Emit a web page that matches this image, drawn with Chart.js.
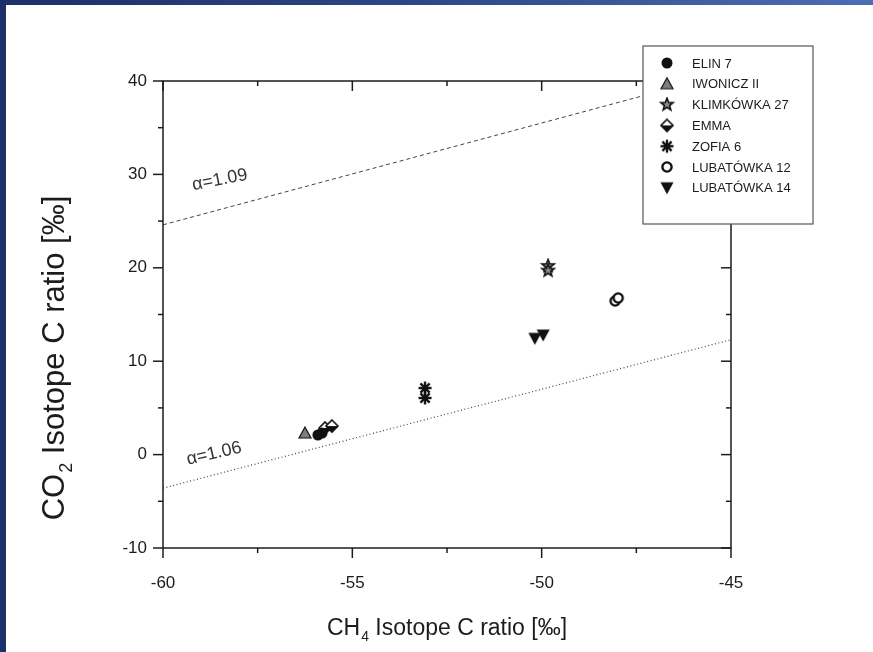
<!DOCTYPE html>
<html>
<head>
<meta charset="utf-8">
<script src="https://cdn.jsdelivr.net/npm/chart.js@4.4.1/dist/chart.umd.min.js"></script>
<style>
  html, body { margin: 0; padding: 0; }
  body { width: 873px; height: 652px; overflow: hidden;
         background: linear-gradient(to right, #1c3069, #2c4584 45%, #4d6db4); position: relative; }
  #frame { position: absolute; left: 6px; top: 5px; width: 867px; height: 647px; background: #fff; }
  #chart { display: block; }
</style>
</head>
<body>
<div id="frame"><canvas id="chart" width="867" height="647"></canvas></div>
<script>
// series names, in legend order
var seriesNames = ['ELIN 7', 'IWONICZ II', 'KLIMKÓWKA 27', 'EMMA', 'ZOFIA 6', 'LUBATÓWKA 12', 'LUBATÓWKA 14'];

// [CH4 ratio, CO2 ratio]
var elin7 = [[-55.91, 2.10], [-55.80, 2.31]];
var iwonicz2 = [[-56.25, 2.31]];
var klimkowka27 = [[-49.83, 20.2], [-49.83, 19.7]];
var emma = [[-55.72, 2.85], [-55.54, 3.06]];
var zofia6 = [[-53.08, 7.13], [-53.08, 6.06]];
var lubatowka12 = [[-48.06, 16.45], [-47.98, 16.77]];
var lubatowka14 = [[-50.18, 12.45], [-49.96, 12.80]];

// fractionation lines, end points
var alpha109 = [[-60, 24.6], [-45, 40.95]];
var alpha106 = [[-60, -3.6], [-45, 12.3]];

// axis ticks
var xMajor = [-60, -55, -50, -45];
var xMinor = [-57.5, -52.5, -47.5];
var yMajor = [-10, 0, 10, 20, 30, 40];
var yMinor = [-5, 5, 15, 25, 35];

var INK = '#1c1c1c';
var FONT = '"Liberation Sans", Arial, sans-serif';

function toPts(arr) {
    return arr.map(function(p) { return { x: p[0], y: p[1] }; });
}

// small canvases used as point styles (and in the legend)
function makeMarker(kind) {
    var c = document.createElement('canvas');
    c.width = 16; c.height = 16;
    var g = c.getContext('2d');
    g.translate(8, 8);
    g.strokeStyle = '#111';
    g.fillStyle = '#111';
    if (kind === 'circle') {
        g.beginPath(); g.arc(0, 0, 5.5, 0, Math.PI * 2); g.fill();
    } else if (kind === 'triangle') {
        g.beginPath(); g.moveTo(0, -6); g.lineTo(6, 5); g.lineTo(-6, 5); g.closePath();
        g.fillStyle = '#7d7d7d'; g.fill(); g.lineWidth = 1.2; g.stroke();
    } else if (kind === 'star') {
        g.beginPath();
        for (var i = 0; i < 10; i++) {
            var r = i % 2 === 0 ? 6.5 : 2.8;
            var a = -Math.PI / 2 + i * Math.PI / 5;
            if (i === 0) g.moveTo(r * Math.cos(a), r * Math.sin(a));
            else g.lineTo(r * Math.cos(a), r * Math.sin(a));
        }
        g.closePath();
        g.fillStyle = '#8a8a8a'; g.fill(); g.lineWidth = 1.6; g.stroke();
    } else if (kind === 'diamond') {
        g.beginPath(); g.moveTo(-6, 0); g.lineTo(0, 6); g.lineTo(6, 0); g.closePath(); g.fill();
        g.beginPath(); g.moveTo(-6, 0); g.lineTo(0, -6); g.lineTo(6, 0); g.closePath();
        g.fillStyle = '#fff'; g.fill();
        g.beginPath(); g.moveTo(0, -6); g.lineTo(6, 0); g.lineTo(0, 6); g.lineTo(-6, 0); g.closePath();
        g.lineWidth = 1.6; g.stroke();
    } else if (kind === 'asterisk') {
        g.lineWidth = 2.4;
        for (var k = 0; k < 4; k++) {
            var b = k * Math.PI / 4;
            g.beginPath();
            g.moveTo(-6.5 * Math.cos(b), -6.5 * Math.sin(b));
            g.lineTo(6.5 * Math.cos(b), 6.5 * Math.sin(b));
            g.stroke();
        }
    } else if (kind === 'ring') {
        g.beginPath(); g.arc(0, 0, 4.6, 0, Math.PI * 2);
        g.fillStyle = '#fff'; g.fill(); g.lineWidth = 2.4; g.stroke();
    } else if (kind === 'down') {
        g.beginPath(); g.moveTo(-6.5, -5.5); g.lineTo(6.5, -5.5); g.lineTo(0, 6.5); g.closePath(); g.fill();
    }
    return c;
}

var markers = [makeMarker('circle'), makeMarker('triangle'), makeMarker('star'), makeMarker('diamond'),
               makeMarker('asterisk'), makeMarker('ring'), makeMarker('down')];
var seriesData = [elin7, iwonicz2, klimkowka27, emma, zofia6, lubatowka12, lubatowka14];

var datasets = seriesData.map(function(d, i) {
    return {
        label: seriesNames[i],
        data: toPts(d),
        pointStyle: markers[i],
        showLine: false
    };
});
datasets.push({
    label: 'a109', data: toPts(alpha109), showLine: true, pointRadius: 0,
    borderColor: '#444', borderWidth: 1, borderDash: [4, 3]
});
datasets.push({
    label: 'a106', data: toPts(alpha106), showLine: true, pointRadius: 0,
    borderColor: '#444', borderWidth: 1.2, borderDash: [1, 2.5]
});

// text on the lines, anchored in data units
var lineLabels = [
    { text: 'α=1.09', x: -58.5, y: 29.4, angle: -11 },
    { text: 'α=1.06', x: -58.65, y: 0.1, angle: -13 }
];

function drawSubText(ctx, parts, cx, cy, rot, bigPx, smallPx) {
    // parts: [main, sub, rest], centred at (cx, cy) on the baseline
    var big = bigPx + 'px ' + FONT, small = smallPx + 'px ' + FONT;
    ctx.save();
    ctx.translate(cx, cy);
    ctx.rotate(rot);
    ctx.textAlign = 'left';
    ctx.textBaseline = 'alphabetic';
    ctx.font = big;
    var w1 = ctx.measureText(parts[0]).width, w3 = ctx.measureText(parts[2]).width;
    ctx.font = small;
    var w2 = ctx.measureText(parts[1]).width + 1;
    var x0 = -(w1 + w2 + w3) / 2;
    ctx.font = big; ctx.fillText(parts[0], x0, 0);
    ctx.font = small; ctx.fillText(parts[1], x0 + w1 + 1, smallPx * 0.45);
    ctx.font = big; ctx.fillText(parts[2], x0 + w1 + w2, 0);
    ctx.restore();
}

var framePlugin = {
    id: 'frame',
    afterDraw: function(chart) {
        var ctx = chart.ctx, a = chart.chartArea;
        var xs = chart.scales.x, ys = chart.scales.y;
        ctx.save();
        ctx.strokeStyle = INK;
        ctx.lineWidth = 1.5;
        ctx.strokeRect(a.left, a.top, a.right - a.left, a.bottom - a.top);

        function tickX(v, len) {
            var px = xs.getPixelForValue(v);
            ctx.beginPath(); ctx.moveTo(px, a.bottom); ctx.lineTo(px, a.bottom + len); ctx.stroke();
            ctx.beginPath(); ctx.moveTo(px, a.top); ctx.lineTo(px, a.top + len); ctx.stroke();
        }
        function tickY(v, len) {
            var py = ys.getPixelForValue(v);
            ctx.beginPath(); ctx.moveTo(a.left, py); ctx.lineTo(a.left - len, py); ctx.stroke();
            ctx.beginPath(); ctx.moveTo(a.right, py); ctx.lineTo(a.right - len, py); ctx.stroke();
        }
        xMajor.forEach(function(v) { tickX(v, 10); });
        xMinor.forEach(function(v) { tickX(v, 5); });
        yMajor.forEach(function(v) { tickY(v, 10); });
        yMinor.forEach(function(v) { tickY(v, 5); });

        // labels on the lines
        ctx.fillStyle = '#333';
        ctx.font = '18px ' + FONT;
        ctx.textAlign = 'center';
        ctx.textBaseline = 'middle';
        lineLabels.forEach(function(l) {
            ctx.save();
            ctx.translate(xs.getPixelForValue(l.x), ys.getPixelForValue(l.y));
            ctx.rotate(l.angle * Math.PI / 180);
            ctx.fillText(l.text, 0, 0);
            ctx.restore();
        });

        // axis titles
        ctx.fillStyle = INK;
        drawSubText(ctx, ['CH', '4', ' Isotope C ratio [‰]'], (a.left + a.right) / 2, 630, 0, 23, 14);
        drawSubText(ctx, ['CO', '2', ' Isotope C ratio [‰]'], 58, 353, -Math.PI / 2, 31, 18);

        // legend box
        var bx = 637, by = 41, bw = 170, bh = 178;
        ctx.fillStyle = '#fff';
        ctx.fillRect(bx, by, bw, bh);
        ctx.strokeStyle = '#555';
        ctx.lineWidth = 1.2;
        ctx.strokeRect(bx, by, bw, bh);
        ctx.font = '13px ' + FONT;
        ctx.textAlign = 'left';
        ctx.textBaseline = 'middle';
        ctx.fillStyle = INK;
        seriesNames.forEach(function(n, i) {
            var yy = by + 17 + i * 20.8;
            ctx.drawImage(markers[i], 661 - 8, yy - 8);
            ctx.fillText(n, 686, yy + 1);
        });
        ctx.restore();
    }
};

new Chart(document.getElementById('chart'), {
    type: 'scatter',
    data: { datasets: datasets },
    options: {
        responsive: false,
        animation: false,
        layout: { padding: { left: 0, top: 76, right: 142, bottom: 0 } },
        plugins: { legend: { display: false }, tooltip: { enabled: false } },
        scales: {
            x: {
                min: -60, max: -45,
                afterFit: function(s) { s.height = 104; },
                grid: { display: false, drawTicks: false },
                border: { display: false },
                ticks: { stepSize: 5, padding: 25, color: INK, font: { family: FONT, size: 17 } }
            },
            y: {
                min: -10, max: 40,
                afterFit: function(s) { s.width = 157; },
                grid: { display: false, drawTicks: false },
                border: { display: false },
                ticks: { stepSize: 10, padding: 16, color: INK, font: { family: FONT, size: 17 } }
            }
        }
    },
    plugins: [framePlugin]
});
</script>
</body>
</html>
